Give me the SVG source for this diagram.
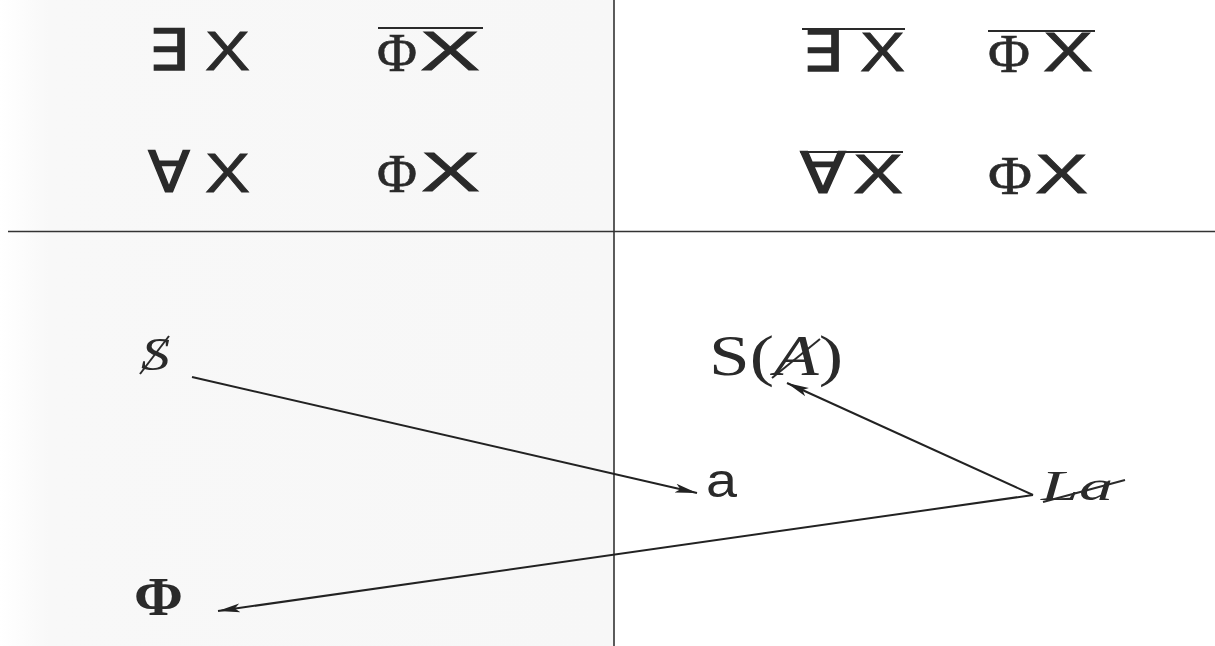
<svg xmlns="http://www.w3.org/2000/svg" width="1215" height="646" viewBox="0 0 1215 646">
  <style>
    .q { font-family: "DejaVu Sans", sans-serif; font-size: 57px; fill: #2a2a2a; stroke: #2a2a2a; stroke-width: 1.3; }
    .x { font-family: "Liberation Sans", Arial, sans-serif; font-size: 55px; fill: #2a2a2a; stroke: #2a2a2a; stroke-width: 0.8; }
    .phi { font-family: "Liberation Serif", "Times New Roman", serif; font-size: 54px; fill: #2a2a2a; stroke: #2a2a2a; stroke-width: 0.6; }
    .ser { font-family: "Liberation Serif", "Times New Roman", serif; fill: #2a2a2a; }
    .san { font-family: "Liberation Sans", Arial, sans-serif; fill: #2a2a2a; }
    .bar { stroke: #2a2a2a; stroke-width: 2; fill: none; }
    .rule { stroke: #333; stroke-width: 1.6; fill: none; }
    .edge { stroke: #222; stroke-width: 2; fill: none; marker-end: url(#ah); }
  </style>
  <defs>
    <linearGradient id="bg" x1="0" y1="0" x2="1" y2="0">
      <stop offset="0" stop-color="#ffffff"/>
      <stop offset="0.08" stop-color="#f8f8f8"/>
      <stop offset="1" stop-color="#f7f7f7"/>
    </linearGradient>
    <marker id="ah" markerUnits="userSpaceOnUse" markerWidth="24" markerHeight="12" refX="22" refY="6" orient="auto">
      <path d="M0,1.5 L22,6 L0,10.5 L5,6 z" fill="#222"/>
    </marker>
  </defs>
  <rect x="0" y="0" width="1215" height="646" fill="#ffffff"/>
  <rect x="0" y="0" width="614" height="646" fill="url(#bg)"/>

  <g id="axes">
    <line class="rule" x1="614" y1="0" x2="614" y2="646"/>
    <line class="rule" x1="8" y1="231.5" x2="1215" y2="231.5"/>
  </g>

  <g id="f-exists-left">
    <text class="q" x="148" y="70" textLength="40" lengthAdjust="spacingAndGlyphs">∃</text>
    <text class="x" x="205" y="70" textLength="45" lengthAdjust="spacingAndGlyphs">X</text>
  </g>
  <g id="f-notphi-left">
    <text class="phi" x="377" y="71" textLength="40" lengthAdjust="spacingAndGlyphs">Φ</text>
    <text class="x" x="420" y="70" textLength="60" lengthAdjust="spacingAndGlyphs">X</text>
    <line class="bar" x1="378" y1="28" x2="483" y2="28"/>
  </g>
  <g id="f-forall-left">
    <text class="q" x="148" y="192" textLength="42" lengthAdjust="spacingAndGlyphs">∀</text>
    <text class="x" x="205" y="192" textLength="45" lengthAdjust="spacingAndGlyphs">X</text>
  </g>
  <g id="f-phi-left">
    <text class="phi" x="377" y="192" textLength="40" lengthAdjust="spacingAndGlyphs">Φ</text>
    <text class="x" x="421" y="191" textLength="59" lengthAdjust="spacingAndGlyphs">X</text>
  </g>

  <g id="f-notexists-right">
    <text class="q" x="802" y="71" textLength="40" lengthAdjust="spacingAndGlyphs">∃</text>
    <text class="x" x="860" y="71" textLength="45" lengthAdjust="spacingAndGlyphs">X</text>
    <line class="bar" x1="802" y1="29" x2="905" y2="29"/>
  </g>
  <g id="f-notphi-right">
    <text class="phi" x="988" y="72" textLength="42" lengthAdjust="spacingAndGlyphs">Φ</text>
    <text class="x" x="1043" y="71" textLength="50" lengthAdjust="spacingAndGlyphs">X</text>
    <line class="bar" x1="988" y1="31" x2="1095" y2="31"/>
  </g>
  <g id="f-notforall-right">
    <text class="q" x="800" y="193" textLength="46" lengthAdjust="spacingAndGlyphs">∀</text>
    <text class="x" x="853" y="193" textLength="50" lengthAdjust="spacingAndGlyphs">X</text>
    <line class="bar" x1="800" y1="152" x2="903" y2="152"/>
  </g>
  <g id="f-phi-right">
    <text class="phi" x="988" y="194" textLength="44" lengthAdjust="spacingAndGlyphs">Φ</text>
    <text class="x" x="1035" y="193" textLength="53" lengthAdjust="spacingAndGlyphs">X</text>
  </g>

  <g id="n-barred-s">
    <text class="ser" x="141" y="370" font-size="46" font-style="italic" textLength="29" lengthAdjust="spacingAndGlyphs">S</text>
    <line class="bar" x1="140" y1="374" x2="169" y2="336" stroke-width="1.5"/>
  </g>
  <g id="n-s-barred-a">
    <text class="ser" x="709" y="375" font-size="56" textLength="134" lengthAdjust="spacingAndGlyphs">S(<tspan font-style="italic">A</tspan>)</text>
    <line class="bar" x1="772" y1="378" x2="820" y2="339" stroke-width="1.5"/>
  </g>
  <g id="n-a">
    <text class="san" x="706" y="497" font-size="48" textLength="31" lengthAdjust="spacingAndGlyphs">a</text>
  </g>
  <g id="n-barred-la">
    <text class="ser" x="1041" y="500" font-size="42" font-style="italic" textLength="72" lengthAdjust="spacingAndGlyphs">La</text>
    <line class="bar" x1="1043" y1="502" x2="1125" y2="480" stroke-width="1.5"/>
  </g>
  <g id="n-phi">
    <text class="ser" x="134" y="615" font-size="54" font-weight="bold" textLength="49" lengthAdjust="spacingAndGlyphs">Φ</text>
  </g>

  <g id="connectors">
    <line class="edge" x1="192" y1="377" x2="697" y2="493"/>
    <line class="edge" x1="1033" y1="495" x2="787" y2="383"/>
    <line class="edge" x1="1033" y1="495" x2="218" y2="611"/>
  </g>
</svg>
